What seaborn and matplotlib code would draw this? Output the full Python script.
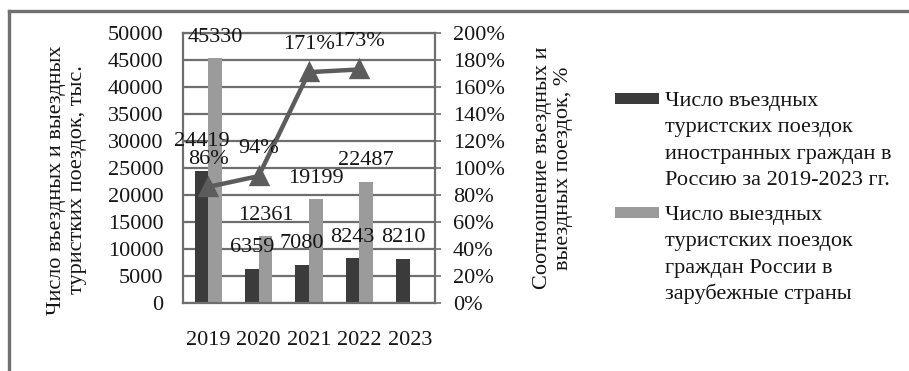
import numpy as np
import pandas as pd
import matplotlib
matplotlib.use("Agg")
import matplotlib.pyplot as plt
from matplotlib.lines import Line2D
from matplotlib.patches import Rectangle
from matplotlib.ticker import FuncFormatter, MultipleLocator
import seaborn as sns

# ---- data -------------------------------------------------------------
years = ["2019", "2020", "2021", "2022", "2023"]
inbound = [24419, 6359, 7080, 8243, 8210]          # въездные поездки, тыс.
outbound = [45330, 12361, 19199, 22487, np.nan]    # выездные поездки, тыс.
ratio = [0.86, 0.94, 1.71, 1.73, np.nan]           # соотношение
series_names = [
    "Число въездных\nтуристских поездок\nиностранных граждан в\nРоссию за 2019-2023 гг.",
    "Число выездных\nтуристских поездок\nграждан России в\nзарубежные страны",
]
left_label = "Число въездных и выездных\nтуристких поездок, тыс."
right_label = "Соотношение въездных и\nвыездных поездок, %"

# ---- style ------------------------------------------------------------
sns.set_style("white")
plt.rcParams["font.family"] = ["Liberation Serif", "DejaVu Serif"]
FS = 16
TXT = "#151515"
GRID = "#6e6e6e"
DARK = "#3b3b3b"
LIGHT = "#9b9b9b"
LINE = "#5c5c5c"

df = pd.DataFrame({
    "year": years * 2,
    "value": inbound + outbound,
    "series": [series_names[0]] * len(years) + [series_names[1]] * len(years),
}).dropna()

W, H = 909, 371
fig = plt.figure(figsize=(W / 100, H / 100), dpi=100)
ax = fig.add_axes([183 / W, 1 - 303 / H, (435 - 183) / W, (303 - 33) / H])

sns.barplot(data=df, x="year", y="value", hue="series", order=years,
            hue_order=series_names, palette=[DARK, LIGHT], width=0.54,
            saturation=1, legend=False, ax=ax, linewidth=0)

ax.set_ylim(0, 50000)
ax.set_xlim(-0.5, len(years) - 0.5)
ax.yaxis.set_major_locator(MultipleLocator(5000))
ax.yaxis.grid(True, color=GRID, lw=1.6)
ax.set_axisbelow(True)
for s in ax.spines.values():
    s.set_visible(True)
    s.set_color(GRID)
    s.set_linewidth(1.6)
ax.set_xlabel("")
ax.set_ylabel("")
ax.tick_params(axis="y", length=0, pad=14, labelsize=FS, labelcolor=TXT)
ax.tick_params(axis="x", length=0, pad=20, labelsize=FS, labelcolor=TXT)

# bar value labels
for container in ax.containers:
    for bar in container:
        h = bar.get_height()
        if not np.isfinite(h) or h == 0:
            continue
        off = 21.5 if h == 24419 else 15
        ax.annotate(f"{int(round(h))}", (bar.get_x() + bar.get_width() / 2, h),
                    xytext=(0, off), textcoords="offset points",
                    ha="center", va="center", fontsize=FS, color=TXT)

# ratio line on the secondary axis
ax2 = ax.twinx()
sns.pointplot(x=years, y=ratio, order=years, color=LINE, markers="^",
              markersize=11, linewidth=3.2, ax=ax2)
ax2.set_ylim(0, 2.0)
ax2.set_xlim(-0.5, len(years) - 0.5)
ax2.yaxis.set_major_locator(MultipleLocator(0.2))
ax2.yaxis.set_major_formatter(FuncFormatter(lambda v, p: f"{v * 100:.0f}%"))
for s in ax2.spines.values():
    s.set_visible(False)
ax2.tick_params(axis="y", length=4, width=1.2, color=GRID, direction="out",
                pad=9, labelsize=FS, labelcolor=TXT)
ax2.set_ylabel("")
ax2.grid(False)

for i, r in enumerate(ratio):
    if np.isfinite(r):
        ax2.annotate(f"{r * 100:.0f}%", (i, r), xytext=(0, 20),
                     textcoords="offset points", ha="center", va="center",
                     fontsize=FS, color=TXT)

# axis titles
fig.text(67 / W, 1 - 180 / H, left_label, rotation=90, ha="center",
         va="center", multialignment="center", fontsize=FS, color=TXT)
fig.text(553 / W, 1 - 168 / H, right_label, rotation=90, ha="center",
         va="center", multialignment="center", fontsize=FS, color=TXT)

# legend
legend_rows = [(series_names[0], DARK, 93, 106), (series_names[1], LIGHT, 207, 220)]
for name, col, patch_top, base in legend_rows:
    fig.add_artist(Rectangle((615 / W, 1 - (patch_top + 11) / H), 44 / W, 11 / H,
                             transform=fig.transFigure, facecolor=col,
                             edgecolor="none"))
    for k, line in enumerate(name.split("\n")):
        fig.text(665 / W, 1 - (base + 26.3 * k) / H, line, ha="left",
                 va="baseline", fontsize=FS, color=TXT)

# outer frame (top and left edges)
fig.add_artist(Line2D([9 / W, 9 / W], [0, 1 - 11 / H], transform=fig.transFigure,
                      color="#707070", lw=2.4, solid_capstyle="projecting"))
fig.add_artist(Line2D([9 / W, 1], [1 - 11 / H, 1 - 11 / H], transform=fig.transFigure,
                      color="#707070", lw=2.4, solid_capstyle="projecting"))

fig.savefig("out.png", dpi=100, facecolor="white")
